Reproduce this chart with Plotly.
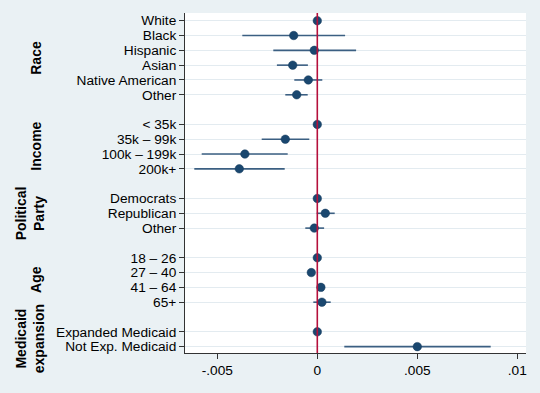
import plotly.graph_objects as go

# ---- data ----
group_names = ["Race", "Income", "Political<br>Party", "Age", "Medicaid<br>expansion"]
group_labels = [
    ["White", "Black", "Hispanic", "Asian", "Native American", "Other"],
    ["< 35k", "35k – 99k", "100k – 199k", "200k+"],
    ["Democrats", "Republican", "Other"],
    ["18 – 26", "27 – 40", "41 – 64", "65+"],
    ["Expanded Medicaid", "Not Exp. Medicaid"],
]
estimates = [
    [0.0, -0.00118, -0.00015, -0.00123, -0.00045, -0.00103],
    [0.0, -0.00160, -0.00362, -0.00390],
    [0.0, 0.00040, -0.00015],
    [0.0, -0.00030, 0.00018, 0.00023],
    [0.0, 0.00500],
]
ci_low = [
    [0.0, -0.00375, -0.00220, -0.00202, -0.00115, -0.00160],
    [0.0, -0.00278, -0.00578, -0.00615],
    [0.0, -0.00003, -0.00060],
    [0.0, -0.00040, 0.00008, -0.00020],
    [0.0, 0.00135],
]
ci_high = [
    [0.0, 0.00139, 0.00194, -0.00047, 0.00025, -0.00048],
    [0.0, -0.00040, -0.00148, -0.00163],
    [0.0, 0.00087, 0.00034],
    [0.0, -0.00020, 0.00028, 0.00067],
    [0.0, 0.00867],
]
x_tickvals = [-0.005, 0, 0.005, 0.01]
x_ticktext = ["-.005", "0", ".005", ".01"]

# ---- build row positions (one blank row between groups) ----
ys, labels, est, lo, hi, group_centers = [], [], [], [], [], []
pos = 0
for g, labs in enumerate(group_labels):
    start = pos
    for i, lab in enumerate(labs):
        ys.append(pos)
        labels.append(lab)
        est.append(estimates[g][i])
        lo.append(ci_low[g][i])
        hi.append(ci_high[g][i])
        pos += 1
    group_centers.append((start + pos - 1) / 2)
    pos += 1

NAVY = "#1a476f"
CI_COL = "#3b5f82"
RED = "#b5103c"
BG = "#eaf1f4"
FONT = "Liberation Sans, Arial"

fig = go.Figure()

# CI lines
for y, a, b in zip(ys, lo, hi):
    if a != b:
        fig.add_trace(go.Scatter(x=[a, b], y=[y, y], mode="lines",
                                 line=dict(color=CI_COL, width=1.6),
                                 hoverinfo="skip", showlegend=False))

# zero line
fig.add_shape(type="line", x0=0, x1=0, y0=0, y1=1, xref="x", yref="paper",
              line=dict(color=RED, width=1.6), layer="above")

# point estimates
fig.add_trace(go.Scatter(x=est, y=ys, mode="markers",
                         marker=dict(color=NAVY, size=8.5,
                                     line=dict(color="#143a5c", width=0.5)),
                         showlegend=False))

# group labels
for name, c in zip(group_names, group_centers):
    two = "<br>" in name
    fig.add_annotation(text="<b>" + name + "</b>", x=0, xref="paper", y=c, yref="y",
                       xanchor="center", yanchor="middle", textangle=-90,
                       xshift=(30 if two else 36) - 185, showarrow=False,
                       font=dict(size=14, color="black", family=FONT))

fig.update_layout(
    width=540, height=393,
    margin=dict(l=185, r=14, t=13, b=40),
    paper_bgcolor=BG, plot_bgcolor="white",
    font=dict(family=FONT, size=13.7, color="black"),
    xaxis=dict(range=[-0.006615, 0.010435], tickvals=x_tickvals, ticktext=x_ticktext,
               showgrid=False, zeroline=False, showline=True, linecolor="#333333",
               linewidth=1, ticks="outside", ticklen=5, tickcolor="#333333",
               tickfont=dict(size=13.7)),
    yaxis=dict(range=[22.43, -0.52], tickvals=ys, ticktext=labels,
               showgrid=True, gridcolor="#e3ebf0", gridwidth=1, zeroline=False,
               showline=True, linecolor="#333333", linewidth=1,
               ticks="outside", ticklen=5, tickcolor="#333333",
               tickfont=dict(size=13.7)),
)

fig.write_html("out.html")
